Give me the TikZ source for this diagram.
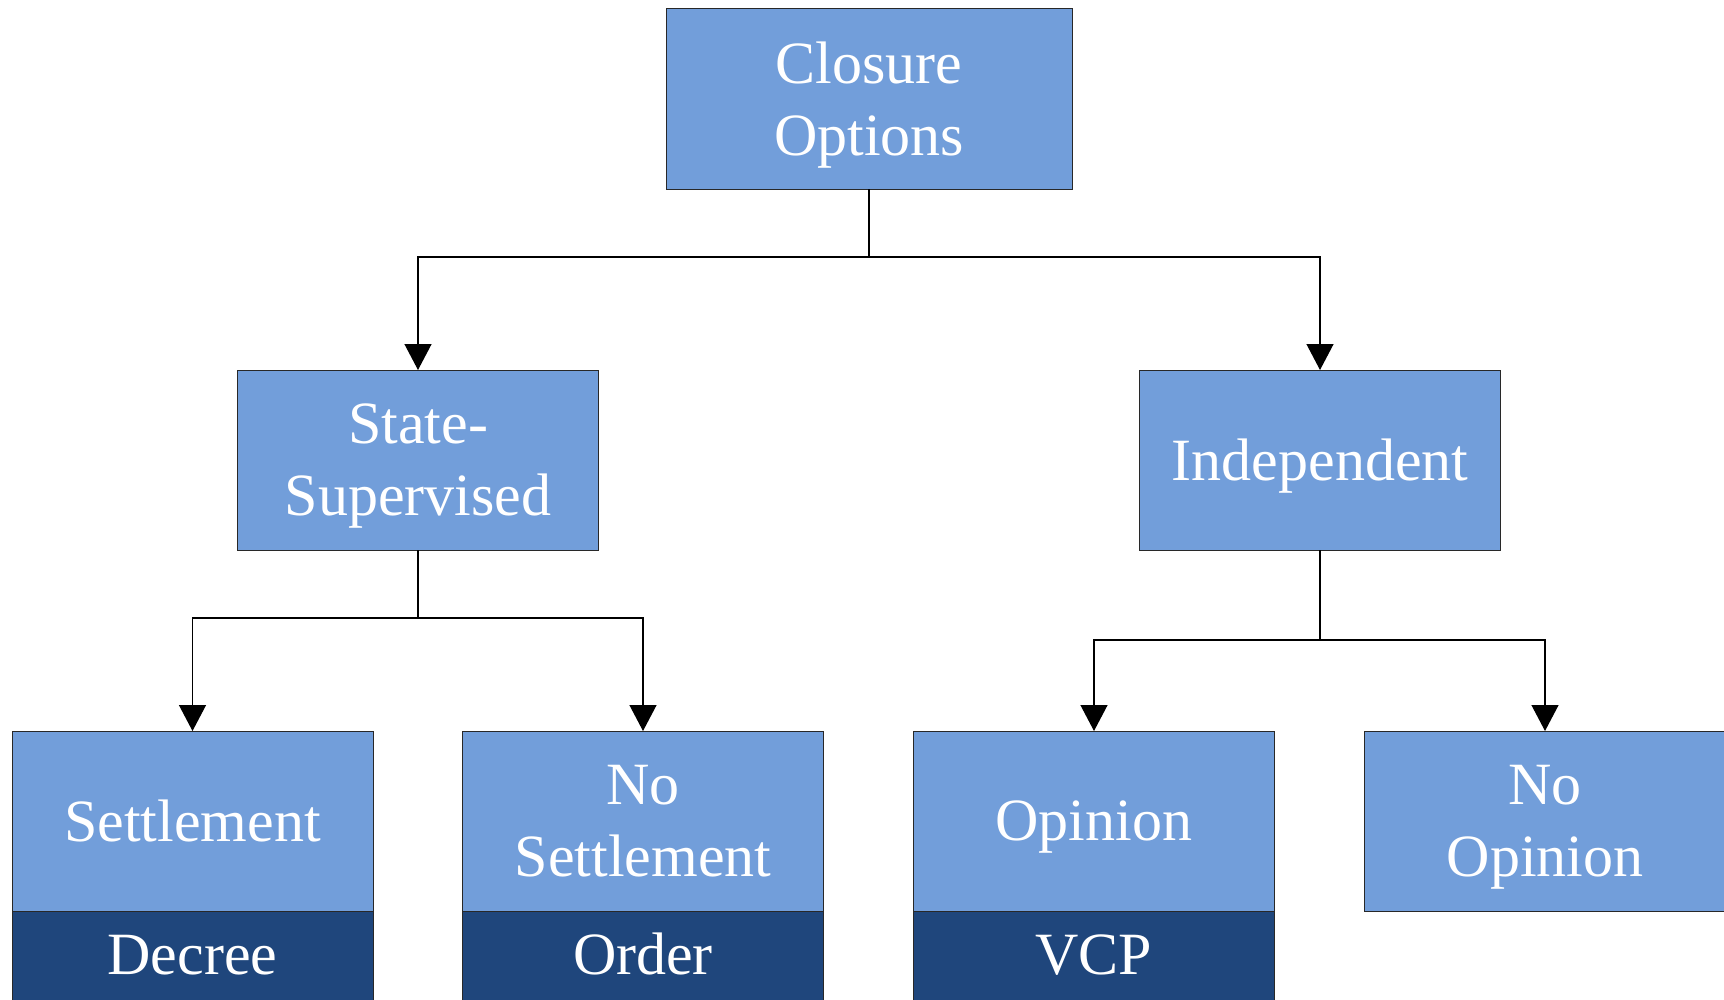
\documentclass[tikz,border=0pt]{standalone}
\usepackage{fontspec}
\setmainfont{Liberation Serif}
\usetikzlibrary{arrows.meta}
\definecolor{boxlight}{RGB}{114,158,218}
\definecolor{boxdark}{RGB}{31,70,124}
\definecolor{edgegray}{RGB}{40,40,40}
% last line without descender depth, so lines sit as in a text frame
\newcommand{\nodesc}[1]{\raisebox{0pt}[\height][0pt]{#1}}

\begin{document}
\begin{tikzpicture}[x=1pt,y=-1pt,
  labelfont/.style={font=\fontsize{60}{72}\selectfont, text=white, align=center},
  box/.style={labelfont, draw=edgegray, line width=1pt, fill=boxlight,
    inner sep=0pt, outer sep=0pt, minimum width=361pt, minimum height=180pt},
  tag/.style={labelfont, draw=edgegray, line width=1pt, fill=boxdark,
    inner sep=0pt, outer sep=0pt, minimum width=361pt, minimum height=94pt,
    text height=42pt, text depth=10pt},
  link/.style={line width=1.3pt, black},
  arrow/.style={link, -{Triangle[width=27pt,length=26pt]}}
]
\useasboundingbox (0,0) rectangle (1724,999);

% root
\node[box, minimum width=406pt, minimum height=181pt] (closure) at (869,98.5) {Closure\\\nodesc{Options}};

% second level
\node[box] (state) at (418,460) {State-\\\nodesc{Supervised}};
\node[box] (indep) at (1320,460) {\nodesc{Independent}};

% third level
\node[box] (settle)   at (192.5,821) {Settlement};
\node[box] (nosettle) at (643,821)   {No\\Settlement};
\node[box] (opinion)  at (1094,821)  {\nodesc{Opinion}};
\node[box] (noopin)   at (1545,821)  {No\\\nodesc{Opinion}};

% outcome tags
\node[tag, anchor=north] (decree) at (settle.south)   {Decree};
\node[tag, anchor=north] (order)  at (nosettle.south) {Order};
\node[tag, anchor=north] (vcp)    at (opinion.south)  {VCP};

% bus points
\coordinate (bus0) at (869,257);
\coordinate (busL) at (418,618);
\coordinate (busR) at (1320,640);

% connectors
\draw[arrow] (closure.south) -- (bus0) -| (state.north);
\draw[arrow] (bus0) -| (indep.north);
\draw[arrow] (state.south) -- (busL) -| (settle.north);
\draw[arrow] (busL) -| (nosettle.north);
\draw[arrow] (indep.south) -- (busR) -| (opinion.north);
\draw[arrow] (busR) -| (noopin.north);
\end{tikzpicture}
\end{document}
